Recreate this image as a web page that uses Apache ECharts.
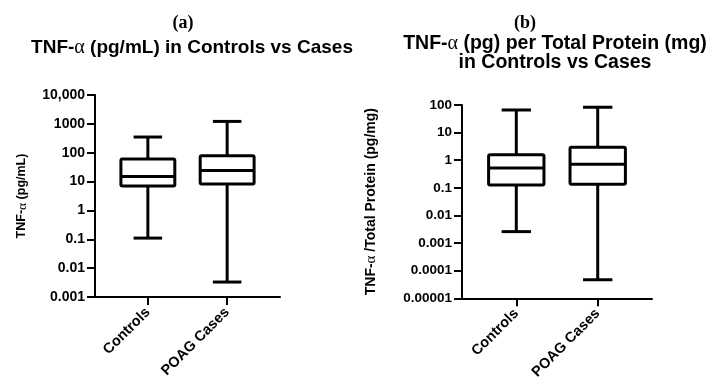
<!DOCTYPE html>
<html>
<head>
<meta charset="utf-8">
<script src="https://cdn.jsdelivr.net/npm/echarts@6/dist/echarts.min.js"></script>
<style>html,body{margin:0;padding:0;background:#fff}#c{width:714px;height:382px}</style>
</head>
<body>
<div id="c"></div>
<script>
// ---- data ----
const categories = ['Controls', 'POAG Cases'];
const categoryPositions = [1, 2];
// [min, Q1, median, Q3, max]
const tnfControls = [0.11, 7.0, 15, 60, 350];
const tnfCases = [0.0033, 8.2, 24, 79, 1215];
const ratioControls = [0.0026, 0.126, 0.525, 1.58, 66];
const ratioCases = [0.000047, 0.134, 0.71, 2.96, 83];
const tickValuesA = [0.001, 0.01, 0.1, 1, 10, 100, 1000, 10000];
const tickLabelsA = ['0.001', '0.01', '0.1', '1', '10', '100', '1000', '10,000'];
const tickValuesB = [0.00001, 0.0001, 0.001, 0.01, 0.1, 1, 10, 100];
const tickLabelsB = ['0.00001', '0.0001', '0.001', '0.01', '0.1', '1', '10', '100'];

const FONT = "'Liberation Sans', Arial, sans-serif";
const SERIF = "'Liberation Serif', 'DejaVu Serif', serif";

function labelFor(values, labels) {
  return function (v) {
    let best = 0, bd = Infinity;
    for (let i = 0; i < values.length; i++) {
      const d = Math.abs(Math.log10(v) - Math.log10(values[i]));
      if (d < bd) { bd = d; best = i; }
    }
    return labels[best];
  };
}

function renderBox(params, api) {
  const x = api.value(0);
  const mn = api.value(1), q1 = api.value(2), md = api.value(3), q3 = api.value(4), mx = api.value(5);
  const c = api.coord([x, md]);
  const halfBox = (api.coord([x + 0.34, md])[0] - api.coord([x - 0.34, md])[0]) / 2;
  const halfCap = (api.coord([x + 0.18, md])[0] - api.coord([x - 0.18, md])[0]) / 2;
  const yMin = api.coord([x, mn])[1], yQ1 = api.coord([x, q1])[1], yMd = c[1], yQ3 = api.coord([x, q3])[1], yMax = api.coord([x, mx])[1];
  const cx = c[0];
  const st = { stroke: '#000', lineWidth: 3, fill: null, lineCap: 'butt' };
  return {
    type: 'group',
    children: [
      { type: 'line', shape: { x1: cx, y1: yQ3, x2: cx, y2: yMax }, style: st },
      { type: 'line', shape: { x1: cx, y1: yQ1, x2: cx, y2: yMin }, style: st },
      { type: 'line', shape: { x1: cx - halfCap, y1: yMax, x2: cx + halfCap, y2: yMax }, style: st },
      { type: 'line', shape: { x1: cx - halfCap, y1: yMin, x2: cx + halfCap, y2: yMin }, style: st },
      { type: 'rect', shape: { x: cx - halfBox, y: yQ3, width: 2 * halfBox, height: yQ1 - yQ3, r: 1.5 }, style: { stroke: '#000', lineWidth: 3, fill: '#fff' } },
      { type: 'line', shape: { x1: cx - halfBox, y1: yMd, x2: cx + halfBox, y2: yMd }, style: st }
    ]
  };
}

function xAxisCfg(gridIndex) {
  return {
    type: 'value', gridIndex: gridIndex, min: 1 / 3, max: 8 / 3,
    splitLine: { show: false },
    axisLine: { show: true, onZero: false, lineStyle: { color: '#000', width: 2 } },
    axisTick: { show: true, customValues: categoryPositions, length: 8, lineStyle: { color: '#000', width: 2 } },
    axisLabel: {
      customValues: categoryPositions, rotate: 45, margin: 13,
      fontFamily: FONT, fontWeight: 'bold', fontSize: 14.5, color: '#000',
      formatter: function (v) { return categories[Math.round(v) - 1] || ''; }
    }
  };
}

function yAxisCfg(gridIndex, min, max, vals, labs, name, gap, tickFont, nameFont) {
  return {
    type: 'log', logBase: 10, gridIndex: gridIndex, min: min, max: max,
    splitLine: { show: false },
    axisLine: { show: true, lineStyle: { color: '#000', width: 2 } },
    axisTick: { show: true, customValues: vals, length: 8, lineStyle: { color: '#000', width: 2 } },
    axisLabel: {
      customValues: vals, margin: 10,
      fontFamily: FONT, fontWeight: 'bold', fontSize: tickFont, color: '#000',
      formatter: labelFor(vals, labs)
    },
    name: name, nameLocation: 'middle', nameGap: gap, nameRotate: 90,
    nameTextStyle: {
      fontFamily: FONT, fontWeight: 'bold', fontSize: nameFont, color: '#000',
      rich: { a: { fontFamily: SERIF, fontWeight: 'normal', fontSize: nameFont + 1, color: '#000' } }
    }
  };
}

const chart = echarts.init(document.getElementById('c'), null, { renderer: 'canvas' });
chart.setOption({
  backgroundColor: '#fff',
  animation: false,
  grid: [
    { left: 95, top: 95, width: 185, height: 202 },
    { left: 462, top: 105, width: 190, height: 196 }
  ],
  xAxis: [xAxisCfg(0), xAxisCfg(1)],
  yAxis: [
    yAxisCfg(0, 0.001, 10000, tickValuesA, tickLabelsA, 'TNF-{a|α} (pg/mL)', 66, 14, 12.5),
    yAxisCfg(1, 0.00001, 100, tickValuesB, tickLabelsB, 'TNF-{a|α} /Total Protein (pg/mg)', 83, 13.5, 14)
  ],
  series: [
    {
      type: 'custom', xAxisIndex: 0, yAxisIndex: 0, renderItem: renderBox,
      encode: { x: 0, y: [1, 2, 3, 4, 5] },
      data: [[categoryPositions[0]].concat(tnfControls), [categoryPositions[1]].concat(tnfCases)]
    },
    {
      type: 'custom', xAxisIndex: 1, yAxisIndex: 1, renderItem: renderBox,
      encode: { x: 0, y: [1, 2, 3, 4, 5] },
      data: [[categoryPositions[0]].concat(ratioControls), [categoryPositions[1]].concat(ratioCases)]
    }
  ],
  graphic: [
    { type: 'text', x: 183, y: 23, style: { text: '(a)', fontFamily: SERIF, fontWeight: 'bold', fontSize: 18, fill: '#000', textAlign: 'center', textVerticalAlign: 'middle' } },
    { type: 'text', x: 525, y: 23, style: { text: '(b)', fontFamily: SERIF, fontWeight: 'bold', fontSize: 18, fill: '#000', textAlign: 'center', textVerticalAlign: 'middle' } },
    { type: 'text', x: 192, y: 48, style: {
      text: 'TNF-{a|α} (pg/mL) in Controls vs Cases',
      fontFamily: FONT, fontWeight: 'bold', fontSize: 19, fill: '#000', textAlign: 'center', textVerticalAlign: 'middle',
      rich: { a: { fontFamily: SERIF, fontWeight: 'normal', fontSize: 20, fill: '#000' } }
    } },
    { type: 'text', x: 555, y: 53, style: {
      text: 'TNF-{a|α} (pg) per Total Protein (mg)\nin Controls vs Cases',
      fontFamily: FONT, fontWeight: 'bold', fontSize: 19.5, lineHeight: 19, fill: '#000', textAlign: 'center', textVerticalAlign: 'middle',
      rich: { a: { fontFamily: SERIF, fontWeight: 'normal', fontSize: 20, lineHeight: 19, fill: '#000' } }
    } }
  ]
});
</script>
</body>
</html>
